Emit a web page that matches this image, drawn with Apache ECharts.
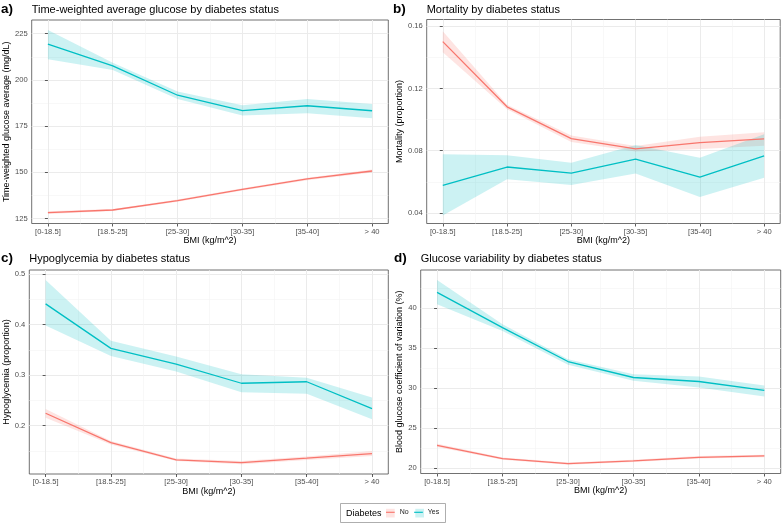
<!DOCTYPE html>
<html><head><meta charset="utf-8">
<script src="https://cdn.jsdelivr.net/npm/echarts@6/dist/echarts.min.js"></script>
<style>html,body{margin:0;padding:0;background:#fff}#c{width:783px;height:524px}</style>
</head><body><div id="c"></div>
<script>
// ---------- data ----------
const bmiCategories = ['[0-18.5]', '[18.5-25]', '[25-30]', '[30-35]', '[35-40]', '> 40'];
const xMajorTicks = [0, 1, 2, 3, 4, 5];
const xMinorTicks = [0.5, 1.5, 2.5, 3.5, 4.5];

// a) time-weighted average glucose (mg/dL)
const glucoseNo   = [128.2, 129.6, 134.7, 140.8, 146.4, 150.7];
const glucoseNoLo = [127.5, 129.0, 134.1, 140.2, 145.7, 149.9];
const glucoseNoHi = [128.9, 130.2, 135.3, 141.4, 147.1, 151.5];
const glucoseYes   = [219.3, 207.6, 191.7, 183.4, 186.0, 183.3];
const glucoseYesLo = [211.2, 205.4, 189.6, 180.7, 182.0, 179.3];
const glucoseYesHi = [227.0, 209.3, 193.7, 186.3, 189.6, 186.9];
const glucoseTicks = [125, 150, 175, 200, 225];
const glucoseMinor = [137.5, 162.5, 187.5, 212.5];

// b) mortality (proportion)
const mortNo   = [0.1501, 0.1082, 0.0877, 0.0811, 0.0852, 0.0876];
const mortNoLo = [0.1432, 0.1067, 0.0856, 0.0794, 0.0811, 0.0832];
const mortNoHi = [0.1568, 0.1095, 0.0897, 0.0830, 0.0890, 0.0919];
const mortYes   = [0.0577, 0.0695, 0.0656, 0.0746, 0.0630, 0.0766];
const mortYesLo = [0.0383, 0.0616, 0.0579, 0.0654, 0.0503, 0.0626];
const mortYesHi = [0.0777, 0.0770, 0.0723, 0.0837, 0.0755, 0.0906];
const mortTicks = [0.04, 0.08, 0.12, 0.16];
const mortMinor = [0.06, 0.10, 0.14];

// c) hypoglycemia (proportion)
const hypoNo   = [0.2246, 0.1667, 0.1324, 0.1270, 0.1357, 0.1450];
const hypoNoLo = [0.2160, 0.1630, 0.1300, 0.1240, 0.1320, 0.1400];
const hypoNoHi = [0.2330, 0.1700, 0.1350, 0.1300, 0.1390, 0.1500];
const hypoYes   = [0.441, 0.353, 0.322, 0.284, 0.287, 0.234];
const hypoYesLo = [0.398, 0.338, 0.307, 0.266, 0.263, 0.213];
const hypoYesHi = [0.488, 0.368, 0.337, 0.302, 0.295, 0.256];
const hypoTicks = [0.2, 0.3, 0.4, 0.5];
const hypoMinor = [0.15, 0.25, 0.35, 0.45];

// d) glucose coefficient of variation (%)
const cvNo   = [22.83, 21.17, 20.54, 20.88, 21.33, 21.50];
const cvNoLo = [22.63, 21.02, 20.39, 20.73, 21.18, 21.35];
const cvNoHi = [23.03, 21.32, 20.69, 21.03, 21.48, 21.65];
const cvYes   = [42.00, 37.58, 33.33, 31.33, 30.83, 29.71];
const cvYesLo = [40.50, 37.17, 32.92, 30.92, 30.08, 28.96];
const cvYesHi = [43.54, 38.00, 33.63, 31.75, 31.46, 30.33];
const cvTicks = [20, 25, 30, 35, 40];
const cvMinor = [22.5, 27.5, 32.5, 37.5, 42.5];

const legendNames = ['No', 'Yes'];

// ---------- layout / style ----------
const FONT = 'Liberation Sans, Arial, Helvetica, sans-serif';
const RED = '#F8766D', TEAL = '#00BFC4';
const RED_FILL = 'rgba(248,118,109,0.2)', TEAL_FILL = 'rgba(0,191,196,0.2)';

const panels = [
  {tag: 'a)', title: 'Time-weighted average glucose by diabetes status', yName: 'Time-weighted glucose average (mg/dL)',
   no: glucoseNo, noLo: glucoseNoLo, noHi: glucoseNoHi, yes: glucoseYes, yesLo: glucoseYesLo, yesHi: glucoseYesHi,
   ticks: glucoseTicks, minor: glucoseMinor, yMin: 122.3, yMax: 232.4, fmt: v => String(v),
   grid: {left: 31.7, top: 20, width: 356.6, height: 203.5}, yGap: 18, tagX: 1, tagY: 2, titleY: 4},
  {tag: 'b)', title: 'Mortality by diabetes status', yName: 'Mortality (proportion)',
   no: mortNo, noLo: mortNoLo, noHi: mortNoHi, yes: mortYes, yesLo: mortYesLo, yesHi: mortYesHi,
   ticks: mortTicks, minor: mortMinor, yMin: 0.0332, yMax: 0.1643, fmt: v => v.toFixed(2),
   grid: {left: 426.7, top: 19.5, width: 353.5, height: 204}, yGap: 20.5, tagX: 393, tagY: 2, titleY: 4},
  {tag: 'c)', title: 'Hypoglycemia by diabetes status', yName: 'Hypoglycemia (proportion)',
   no: hypoNo, noLo: hypoNoLo, noHi: hypoNoHi, yes: hypoYes, yesLo: hypoYesLo, yesHi: hypoYesHi,
   ticks: hypoTicks, minor: hypoMinor, yMin: 0.1045, yMax: 0.508, fmt: v => v.toFixed(1),
   grid: {left: 29.3, top: 270, width: 359, height: 204}, yGap: 17.5, tagX: 1, tagY: 251, titleY: 253},
  {tag: 'd)', title: 'Glucose variability by diabetes status', yName: 'Blood glucose coefficient of variation (%)',
   no: cvNo, noLo: cvNoLo, noHi: cvNoHi, yes: cvYes, yesLo: cvYesLo, yesHi: cvYesHi,
   ticks: cvTicks, minor: cvMinor, yMin: 19.3, yMax: 44.8, fmt: v => String(v),
   grid: {left: 420.7, top: 270, width: 360, height: 203.5}, yGap: 14.5, tagX: 394, tagY: 251, titleY: 253}
];

const grids = [], xAxes = [], yAxes = [], series = [], titles = [];
const pts = arr => arr.map((v, i) => [i, v]);

panels.forEach((p, k) => {
  grids.push(Object.assign({show: true, borderColor: '#4D4D4D', borderWidth: 0.8, backgroundColor: 'transparent', containLabel: false}, p.grid));
  const xBase = {type: 'value', gridIndex: k, min: -0.25, max: 5.25};
  xAxes.push(Object.assign({}, xBase, {
    position: 'bottom',
    name: 'BMI (kg/m^2)', nameLocation: 'middle', nameGap: 12.5,
    nameTextStyle: {fontFamily: FONT, fontSize: 9, color: '#000'},
    axisLine: {show: false},
    axisTick: {show: true, length: 3, customValues: xMajorTicks, lineStyle: {color: '#333', width: 0.8}},
    axisLabel: {show: true, customValues: xMajorTicks, margin: 4, fontFamily: FONT, fontSize: 7.6, color: '#4D4D4D',
                formatter: v => bmiCategories[Math.round(v)]},
    splitLine: {show: true, lineStyle: {color: '#EBEBEB', width: 1}},
    minorSplitLine: {show: false}
  }));
  xAxes.push(Object.assign({}, xBase, {
    position: 'top', axisLine: {show: false},
    axisTick: {show: false, customValues: xMinorTicks}, axisLabel: {show: false, customValues: xMinorTicks},
    splitLine: {show: true, lineStyle: {color: '#F3F3F3', width: 0.6}}
  }));
  const yBase = {type: 'value', gridIndex: k, min: p.yMin, max: p.yMax};
  yAxes.push(Object.assign({}, yBase, {
    position: 'left',
    name: p.yName, nameLocation: 'middle', nameGap: p.yGap,
    nameTextStyle: {fontFamily: FONT, fontSize: 9, color: '#000'},
    axisLine: {show: false},
    axisTick: {show: true, length: 3, customValues: p.ticks, lineStyle: {color: '#333', width: 0.8}},
    axisLabel: {show: true, customValues: p.ticks, margin: 4, fontFamily: FONT, fontSize: 7.6, color: '#4D4D4D', formatter: p.fmt},
    splitLine: {show: true, lineStyle: {color: '#EBEBEB', width: 1}}
  }));
  yAxes.push(Object.assign({}, yBase, {
    position: 'right', axisLine: {show: false},
    axisTick: {show: false, customValues: p.minor}, axisLabel: {show: false, customValues: p.minor},
    splitLine: {show: true, lineStyle: {color: '#F3F3F3', width: 0.6}}
  }));
  const xi = 2 * k, yi = 2 * k;
  const band = (name, lo, hi, fill) => {
    series.push({type: 'custom', name: name + ' band', xAxisIndex: xi, yAxisIndex: yi, silent: true,
      data: lo.map((v, i) => [i, v, hi[i]]), encode: {x: 0, y: [1, 2]},
      renderItem: (params, api) => {
        if (params.dataIndex !== 0) return null;
        const upper = hi.map((v, i) => api.coord([i, v]));
        const lower = lo.map((v, i) => api.coord([i, v])).reverse();
        return {type: 'polygon', shape: {points: upper.concat(lower)}, style: {fill: fill, stroke: null}};
      }});
  };
  const line = (name, vals, color) => {
    series.push({type: 'line', name: name, xAxisIndex: xi, yAxisIndex: yi, data: pts(vals), symbol: 'none',
      color: color, lineStyle: {color: color, width: 1.3}});
  };
  band('No', p.noLo, p.noHi, RED_FILL);
  line('No', p.no, RED);
  band('Yes', p.yesLo, p.yesHi, TEAL_FILL);
  line('Yes', p.yes, TEAL);
  titles.push({text: p.tag, left: p.tagX, top: p.tagY, padding: 0,
    textStyle: {fontFamily: FONT, fontSize: 13.5, fontWeight: 'bold', color: '#000'}});
  titles.push({text: p.title, left: p.grid.left, top: p.titleY, padding: 0,
    textStyle: {fontFamily: FONT, fontSize: 11, fontWeight: 'normal', color: '#000'}});
});

const option = {
  animation: false,
  backgroundColor: '#fff',
  title: titles,
  grid: grids,
  xAxis: xAxes,
  yAxis: yAxes,
  legend: {
    data: legendNames, left: 386, top: 508.8, itemWidth: 8.7, itemHeight: 8.7, itemGap: 5.5, padding: 0,
    icon: 'path://M0,0h20v2.6h-20z', selectedMode: false,
    textStyle: {fontFamily: FONT, fontSize: 7, color: '#1a1a1a'}
  },
  graphic: [
    {type: 'rect', z: -1, shape: {x: 340.5, y: 503.5, width: 105, height: 19}, style: {fill: '#fff', stroke: '#999', lineWidth: 0.8}},
    {type: 'text', x: 346, y: 513.3, style: {text: 'Diabetes', font: '9px ' + FONT, fill: '#000', verticalAlign: 'middle'}},
    {type: 'rect', z: 0, shape: {x: 386, y: 508.8, width: 8.7, height: 8.7}, style: {fill: RED_FILL}},
    {type: 'rect', z: 0, shape: {x: 415.3, y: 508.8, width: 8.7, height: 8.7}, style: {fill: TEAL_FILL}}
  ],
  series: series
};
const chart = echarts.init(document.getElementById('c'), null, {renderer: 'canvas'});
chart.setOption(option);
</script></body></html>
